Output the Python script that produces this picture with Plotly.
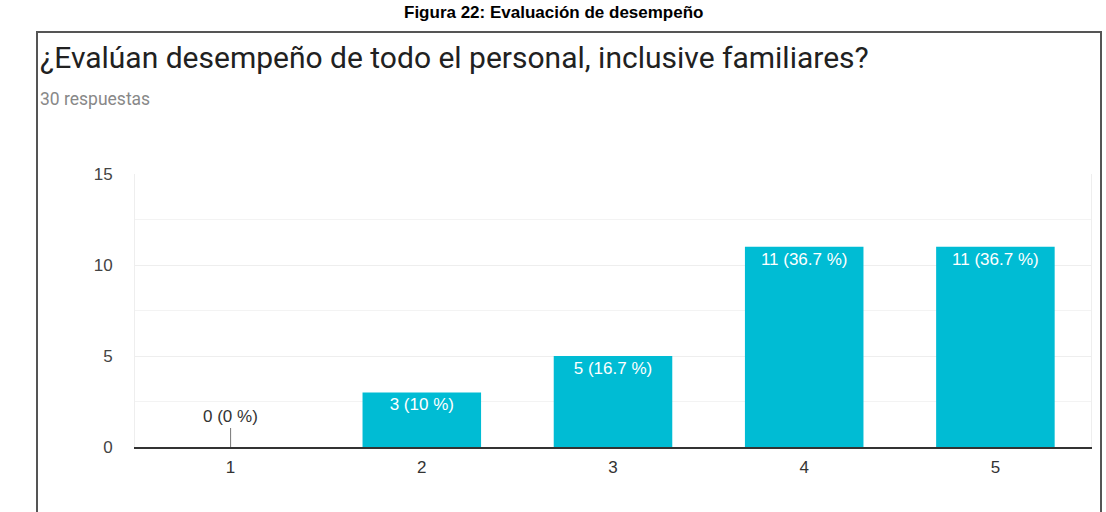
import plotly.graph_objects as go

categories = ["1", "2", "3", "4", "5"]
counts = [0, 3, 5, 11, 11]
percents = ["0 %", "10 %", "16.7 %", "36.7 %", "36.7 %"]
y_ticks = [0, 5, 10, 15]

# body margin is removed in the page (post_script), so layout px == screen px
OX, OY = 0, 0
W, H = 1106 - OX, 512 - OY
L, R, T, B = 135 - OX, 15, 174 - OY, 65
pw, ph = W - L - R, H - T - B

def px(x):
    return (x - OX - L) / pw

def py(y):
    return (H - B - (y - OY)) / ph

labels = [f"{c} ({p})" for c, p in zip(counts, percents)]
inside_text = [lab if c > 0 else "" for lab, c in zip(labels, counts)]

LABEL_FONT = "Liberation Sans, Arial"

fig = go.Figure(go.Bar(
    x=categories, y=counts,
    marker=dict(color="#00BCD4", line=dict(width=0)),
    text=inside_text, textposition="inside", insidetextanchor="end",
    textfont=dict(color="white", size=17, family=LABEL_FONT),
    textangle=0,
))

annotations = []
for i, (c, lab) in enumerate(zip(counts, labels)):
    if c == 0:
        annotations.append(dict(
            x=i, y=c, xref="x", yref="y", text=lab, showarrow=True,
            arrowhead=0, arrowwidth=1, arrowcolor="#777", ax=0, ay=-19,
            font=dict(size=17, color="#333", family=LABEL_FONT), yanchor="bottom",
        ))

annotations += [
    dict(text="<b>Figura 22: Evaluación de desempeño</b>", xref="paper", yref="paper",
         x=px(553), y=py(12), xanchor="center", yanchor="middle", showarrow=False,
         font=dict(size=17, color="#000", family="Liberation Sans")),
    dict(text="¿Evalúan desempeño de todo el personal, inclusive familiares?", xref="paper", yref="paper",
         x=px(38), y=py(58), xanchor="left", yanchor="middle", showarrow=False,
         font=dict(size=30, color="#212121", family="Roboto")),
    dict(text="30 respuestas", xref="paper", yref="paper",
         x=px(38), y=py(99), xanchor="left", yanchor="middle", showarrow=False,
         font=dict(size=17.5, color="#888", family="Roboto")),
]

fig.update_layout(
    width=W, height=H,
    margin=dict(l=L, r=R, t=T, b=B),
    paper_bgcolor="white", plot_bgcolor="white",
    bargap=0.38, showlegend=False,
    annotations=annotations,
    shapes=[dict(type="rect", xref="paper", yref="paper",
                 x0=px(37), x1=px(1101), y0=py(530), y1=py(32),
                 line=dict(color="#555", width=2), layer="below")],
    xaxis=dict(showgrid=False, showline=True, linecolor="#333", linewidth=1.5,
               tickfont=dict(size=17, color="#333", family=LABEL_FONT), ticks="",
               ticklabelstandoff=4),
    yaxis=dict(range=[0, 15], tickvals=y_ticks, showgrid=True, gridcolor="#eeeeee",
               minor=dict(dtick=2.5, showgrid=True, gridcolor="#f3f3f3"),
               showline=True, linecolor="#eeeeee", mirror=True, zeroline=False,
               tickfont=dict(size=17, color="#444", family=LABEL_FONT), ticks="",
               ticklabelstandoff=18),
)

fig.write_html("out.html", config={"displayModeBar": False},
               post_script="document.body.style.margin='0px';document.body.style.overflow='hidden';")
